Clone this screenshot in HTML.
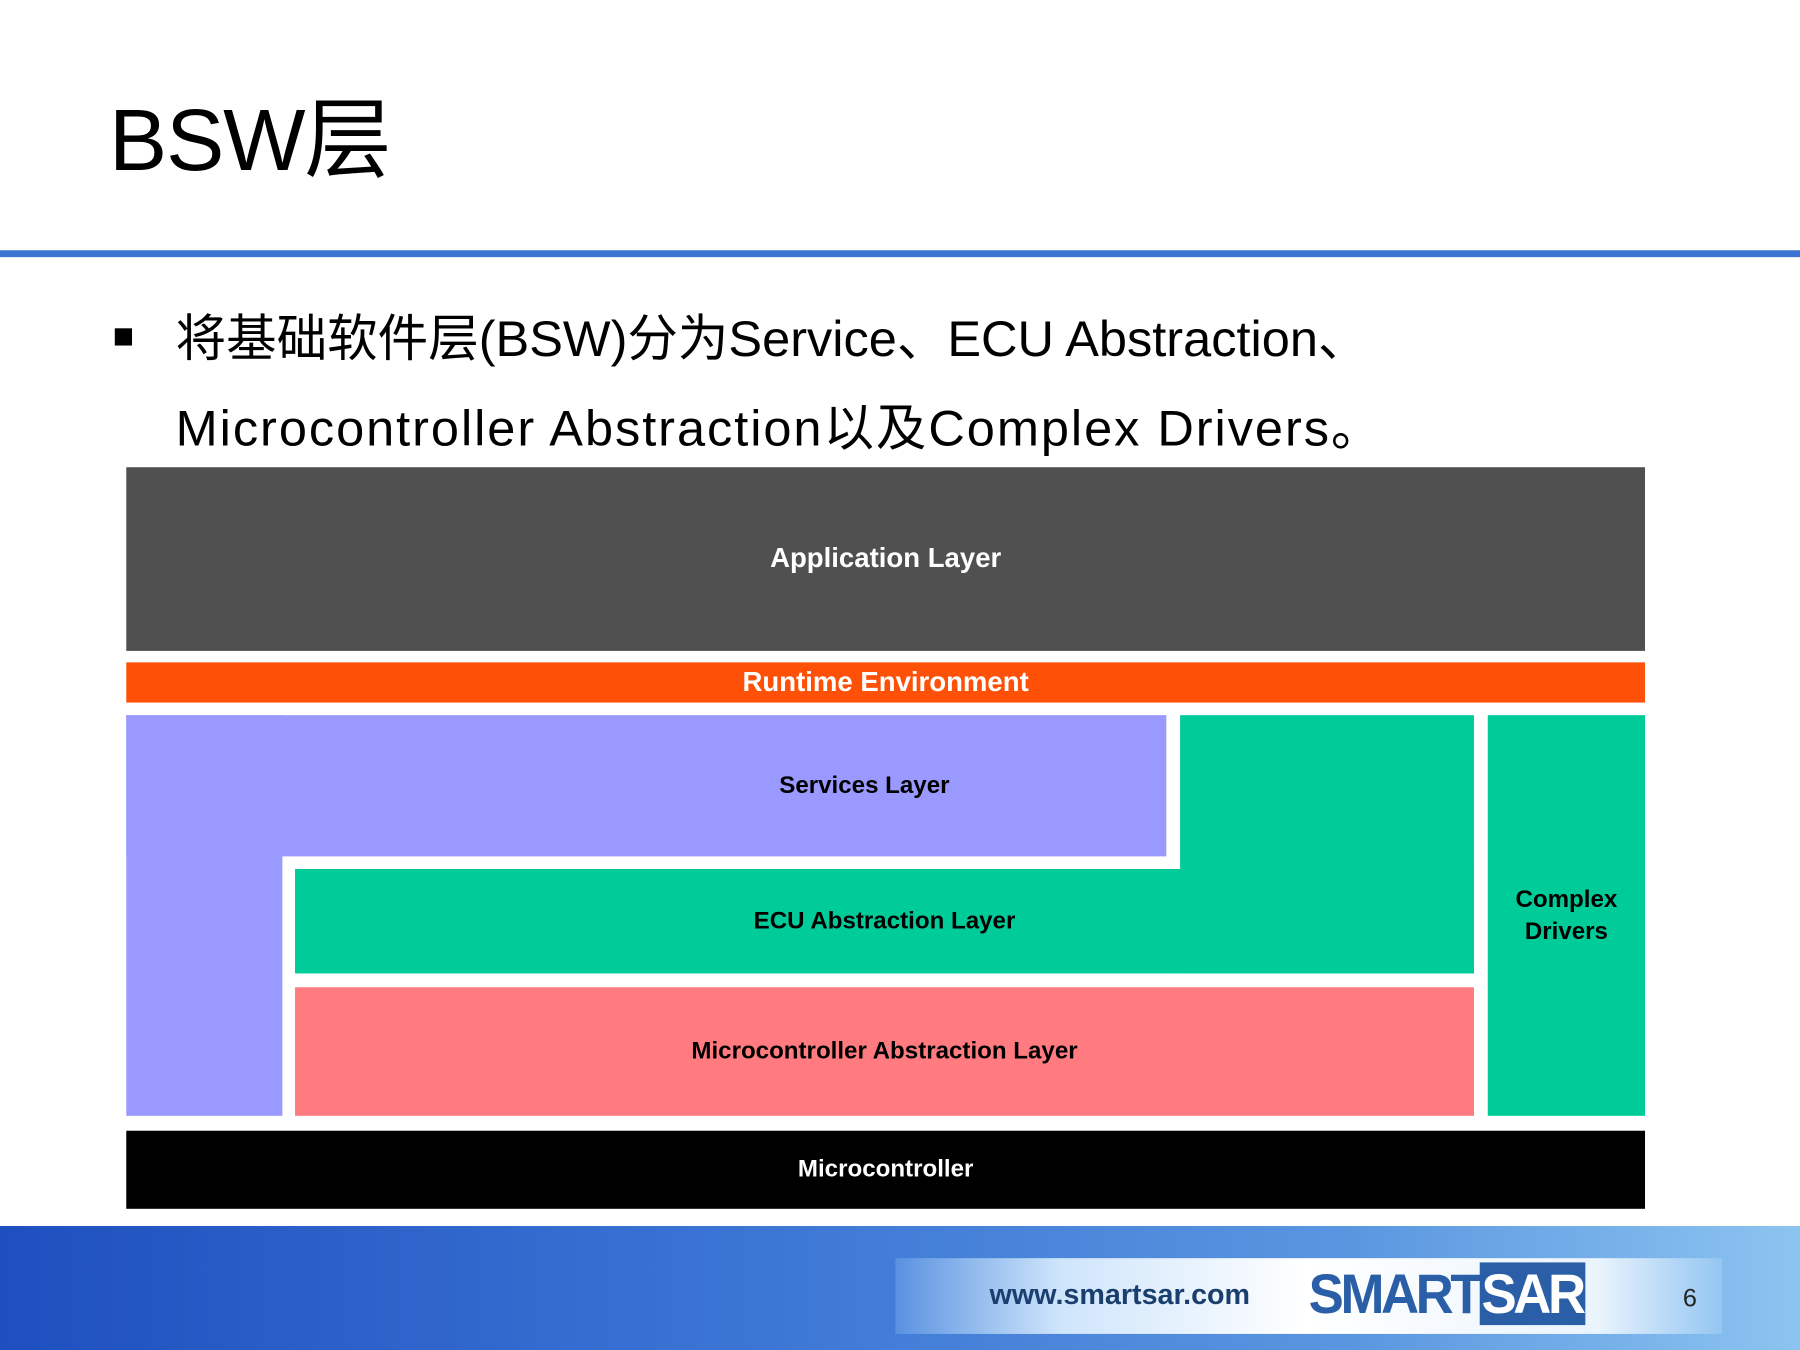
<!DOCTYPE html>
<html><head><meta charset="utf-8"><style>
html,body{margin:0;padding:0;width:1800px;height:1350px;overflow:hidden;background:#fff}
#w{position:absolute;left:0;top:0;width:1568px;height:1176px;transform:scale(1.147959);transform-origin:0 0;font-family:"Liberation Sans","Noto Sans CJK SC",sans-serif}
.a{position:absolute}
.b{position:absolute;display:flex;align-items:center;justify-content:center;text-align:center;font-weight:bold;font-size:21px}
</style></head><body><div id="w">
<div class="a" style="left:95px;top:78px;font-size:76px;line-height:90px;color:#000;letter-spacing:-1px">BSW层</div>
<div class="a" style="left:0;top:218px;width:1568px;height:6px;background:#3a74d0"></div>
<div class="a" style="left:100px;top:286px;width:15px;height:15px;background:#000"></div>
<div class="a" style="left:153px;top:268px;font-size:44px;line-height:56px;color:#000;white-space:nowrap;letter-spacing:0px">将基础软件层(BSW)分为Service、ECU Abstraction、</div>
<div class="a" style="left:153px;top:346px;font-size:44px;line-height:56px;color:#000;white-space:nowrap;letter-spacing:1.7px">Microcontroller Abstraction以及Complex Drivers。</div>

<div class="b" style="left:110px;top:407px;width:1323px;height:160px;background:#505050;color:#fff;font-size:24px">Application Layer</div>
<div class="b" style="left:110px;top:577px;width:1323px;height:35px;background:#ff5008;color:#fff;font-size:24px">Runtime Environment</div>
<div class="a" style="left:110px;top:623px;width:136px;height:349px;background:#9999ff"></div>
<div class="b" style="left:110px;top:623px;width:906px;height:123px;background:#9999ff;color:#000;padding-left:380px;box-sizing:border-box">Services Layer</div>
<div class="a" style="left:1028px;top:623px;width:256px;height:225px;background:#00cc99"></div>
<div class="b" style="left:257px;top:757px;width:1027px;height:91px;background:#00cc99;color:#000">ECU Abstraction Layer</div>
<div class="b" style="left:257px;top:860px;width:1027px;height:112px;background:#ff7b80;color:#000">Microcontroller Abstraction Layer</div>
<div class="b" style="left:1296px;top:623px;width:137px;height:349px;background:#00cc99;color:#000;line-height:28px">Complex<br>Drivers</div>
<div class="b" style="left:110px;top:985px;width:1323px;height:68px;background:#000;color:#fff">Microcontroller</div>

<div class="a" style="left:0;top:1068px;width:1568px;height:108px;background:linear-gradient(90deg,#1f4fbf 0%,#3a74d4 40%,#5a96e0 75%,#8cc4f0 100%)"></div>
<div class="a" style="left:780px;top:1096px;width:720px;height:66px;background:linear-gradient(90deg,rgba(140,190,245,0.3) 0%,#cfe5fb 20%,#ffffff 50%,#eaf4fd 85%,rgba(160,205,245,0.6) 100%)"></div>
<div class="a" style="left:862px;top:1114px;font-size:25px;font-weight:bold;color:#1a3f6e">www.smartsar.com</div>
<div class="a" style="left:1140px;top:1100px;font-size:46px;font-weight:bold;color:#2a5fa8;letter-spacing:-3px;transform:scaleY(1.05)">SMART<span style="background:#2a5fa8;color:#fff;padding:0 2px">SAR</span></div>
<div class="a" style="left:1466px;top:1118px;font-size:22px;color:#222">6</div>
</div></body></html>
